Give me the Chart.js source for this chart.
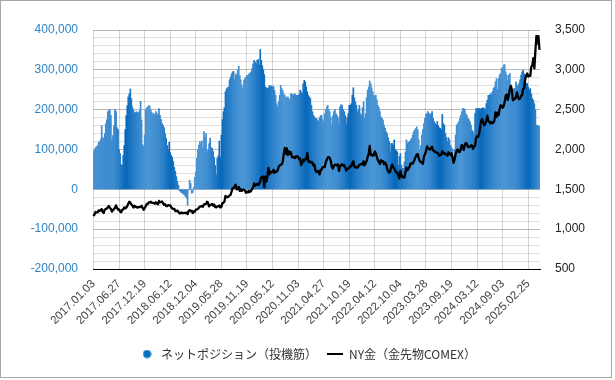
<!DOCTYPE html>
<html>
<head>
<meta charset="utf-8">
<script src="https://cdn.jsdelivr.net/npm/chart.js@4.4.1/dist/chart.umd.min.js"></script>
<style>
html,body{margin:0;padding:0;background:#fff;}
#wrap{position:relative;width:615px;height:380px;overflow:hidden;}
#frame{position:absolute;left:0;top:0;width:612px;height:378px;border:1px solid #a6a6a6;box-sizing:border-box;pointer-events:none;}
#c{position:absolute;left:0;top:0;}
</style>
</head>
<body>
<div id="wrap"><div id="frame"></div><canvas id="c" width="615" height="380"></canvas></div>
<script>
// ---- data ----
const seriesNames = ['ネットポジション（投機筋）', 'NY金（金先物COMEX）'];
const firstWeek = [2017, 1, 3];
const tickLabels = ['2017.01.03','2017.06.27','2017.12.19','2018.06.12','2018.12.04','2019.05.28','2019.11.19','2020.05.12','2020.11.03','2021.04.27','2021.10.19','2022.04.12','2022.10.04','2023.03.28','2023.09.19','2024.03.12','2024.09.03','2025.02.25'];

const netPosition = [
 95000,100000,105000,107000,110000,118000,120000,125000,160000,130000,
 128000,140000,165000,175000,195000,198000,200000,186000,124000,135000,
 160000,200000,195000,155000,150000,100000,90000,62000,60000,85000,
 110000,150000,185000,210000,232000,240000,252000,228000,207000,199000,
 192000,193000,195000,192000,193000,198000,221000,174000,112000,108000,
 136000,200000,
 205000,207000,211000,208000,200000,193000,188000,190000,186000,195000,
 190000,186000,203000,185000,175000,165000,160000,155000,140000,128000,
 110000,100000,118000,92000,85000,80000,70000,55000,45000,32000,
 20000,10000,-3000,-5000,-8000,-10000,-12000,-14000,-18000,-22000,
 -40000,-2000,23000,15000,-10000,-8000,5000,30000,44000,78000,
 100000,111000,
 120000,115000,122000,103000,145000,130000,140000,95000,100000,115000,
 128000,105000,103000,95000,80000,60000,36000,78000,84000,121000,
 80000,136000,175000,195000,205000,245000,252000,255000,257000,275000,
 282000,290000,295000,296000,275000,290000,286000,300000,309000,286000,
 275000,262000,253000,274000,278000,282000,286000,286000,290000,292000,
 295000,303000,315000,
 324000,320000,316000,324000,326000,312000,351000,324000,310000,300000,
 288000,257000,255000,253000,255000,261000,258000,260000,257000,258000,
 248000,236000,215000,207000,220000,236000,261000,253000,248000,240000,
 236000,232000,228000,232000,228000,224000,240000,240000,236000,238000,
 240000,236000,236000,236000,238000,249000,245000,240000,265000,274000,
 270000,257000,
 245000,236000,232000,228000,211000,195000,186000,182000,178000,178000,
 174000,170000,180000,185000,186000,175000,170000,190000,200000,207000,
 211000,200000,195000,180000,161000,185000,195000,200000,190000,186000,
 180000,165000,207000,213000,210000,200000,195000,185000,165000,180000,
 190000,211000,211000,215000,236000,255000,230000,220000,211000,195000,
 200000,211000,
 190000,186000,205000,220000,178000,190000,230000,249000,257000,272000,
 265000,255000,245000,236000,232000,236000,225000,211000,205000,195000,
 182000,178000,174000,161000,153000,145000,140000,130000,120000,94000,
 115000,115000,110000,124000,99000,97000,94000,61000,82000,90000,
 61000,53000,53000,69000,94000,124000,115000,118000,120000,124000,
 128000,136000,
 145000,149000,153000,157000,150000,125000,100000,110000,136000,150000,
 165000,178000,188000,190000,195000,190000,186000,190000,195000,178000,
 170000,165000,161000,170000,160000,155000,153000,149000,188000,165000,
 161000,140000,130000,120000,130000,125000,111000,105000,99000,78000,
 100000,136000,161000,165000,170000,178000,186000,195000,203000,203000,
 200000,190000,
 186000,178000,175000,170000,161000,149000,145000,136000,190000,203000,
 203000,203000,203000,199000,203000,203000,205000,203000,199000,215000,
 224000,236000,236000,240000,238000,245000,253000,257000,270000,278000,
 250000,278000,287000,291000,305000,303000,312000,313000,295000,287000,
 274000,287000,291000,257000,245000,236000,253000,253000,270000,262000,
 260000,266000,275000,
 287000,295000,299000,290000,278000,266000,266000,257000,249000,253000,
 240000,228000,224000,215000,199000,161000,161000,159000,158000
];

const goldPrice = [
 1163,1185,1216,1211,1210,1236,1229,1237,1252,1216,
 1203,1245,1253,1258,1275,1291,1267,1256,1220,1236,
 1256,1266,1298,1268,1246,1247,1221,1213,1242,1249,
 1272,1262,1272,1291,1318,1344,1334,1311,1294,1272,
 1293,1283,1277,1271,1276,1278,1281,1294,1266,1243,
 1265,1288,
 1316,1313,1337,1335,1345,1330,1330,1329,1318,1337,
 1326,1311,1354,1337,1340,1347,1327,1305,1313,1290,
 1291,1301,1297,1299,1276,1260,1253,1255,1227,1226,
 1233,1218,1199,1198,1210,1202,1202,1206,1201,1207,
 1189,1230,1239,1227,1231,1202,1222,1219,1245,1248,
 1254,1269,
 1284,1286,1291,1282,1311,1314,1315,1344,1330,1287,
 1301,1306,1316,1294,1309,1277,1275,1285,1285,1296,
 1273,1279,1327,1331,1346,1418,1400,1401,1410,1424,
 1431,1475,1514,1515,1542,1559,1499,1513,1531,1480,
 1505,1481,1494,1495,1484,1456,1472,1461,1483,1468,
 1480,1504,1520,
 1574,1544,1558,1569,1553,1570,1603,1650,1644,1660,
 1526,1660,1596,1664,1768,1688,1722,1711,1718,1746,
 1705,1727,1720,1736,1782,1800,1809,1813,1843,1944,
 2020,1946,2013,1929,1978,1943,1966,1907,1899,1908,
 1893,1916,1911,1910,1876,1888,1805,1830,1873,1857,
 1878,1882,
 1954,1856,1840,1850,1834,1838,1799,1808,1737,1716,
 1731,1727,1686,1743,1746,1778,1779,1779,1837,1869,
 1898,1905,1893,1855,1779,1761,1796,1808,1811,1799,
 1813,1731,1789,1806,1816,1797,1806,1777,1735,1760,
 1760,1770,1793,1789,1829,1852,1782,1774,1785,1771,
 1789,1810,
 1814,1819,1813,1852,1801,1828,1855,1907,1944,2044,
 1929,1939,1920,1930,1977,1950,1903,1867,1842,1818,
 1866,1848,1853,1813,1838,1820,1763,1725,1711,1719,
 1776,1812,1776,1761,1737,1713,1709,1671,1636,1731,
 1677,1652,1658,1649,1716,1776,1740,1763,1782,1826,
 1826,1823,
 1846,1878,1910,1937,1942,1890,1854,1842,1836,1820,
 1910,1941,1973,2038,2019,2007,1998,2023,2034,1989,
 1974,1977,1963,1958,1950,1923,1929,1936,1979,1965,
 1944,1949,1935,1923,1965,1953,1932,1953,1900,1834,
 1876,1941,1986,2001,1969,1966,2000,2057,2037,1995,
 2059,2083,
 2073,2034,2030,2036,2052,2052,2008,2038,2044,2141,
 2166,2160,2197,2281,2362,2383,2342,2303,2324,2359,
 2425,2360,2347,2327,2346,2331,2339,2369,2467,2409,
 2462,2431,2505,2554,2550,2525,2543,2598,2677,2690,
 2622,2680,2758,2800,2749,2616,2636,2633,2658,2718,
 2651,2633,2641,
 2672,2680,2759,2767,2874,2932,2953,2917,2928,2925,
 3041,3060,3148,3018,3240,3425,3333,3422,3250
];

// weekly category labels (one per published week)
const categories = [];
(function () {
  const t0 = Date.UTC(firstWeek[0], firstWeek[1] - 1, firstWeek[2]);
  const p = n => String(n).padStart(2, '0');
  for (let i = 0; i < netPosition.length; i++) {
    const d = new Date(t0 + i * 7 * 86400000);
    categories.push(d.getUTCFullYear() + '.' + p(d.getUTCMonth() + 1) + '.' + p(d.getUTCDate()));
  }
})();

// ---- styles ----
const LATIN = '"Liberation Sans", Arial, sans-serif';
const CJK = '"Noto Sans CJK JP", "Liberation Sans", sans-serif';
Chart.defaults.font.family = LATIN;

function barFill(context) {
  const chart = context.chart;
  const a = chart.chartArea;
  if (!a) return '#3b8bd0';
  const key = a.left + '_' + a.right;
  if (chart.$grad && chart.$gradKey === key) return chart.$grad;
  const g = chart.ctx.createLinearGradient(a.left, 0, a.right, 0);
  const centers = [0.074, 0.174, 0.286, 0.380, 0.477, 0.575, 0.676, 0.776, 0.868, 0.973];
  const stops = [[0, '#4792d3']];
  centers.forEach((c, k) => {
    if (k > 0) stops.push([(centers[k - 1] + c) / 2, '#4c97d5']);
    stops.push([c - 0.03, '#3a8acf']);
    stops.push([c - 0.01, '#1a75c3']);
    stops.push([c, '#0767b9']);
    stops.push([c + 0.01, '#1a75c3']);
    stops.push([c + 0.03, '#3a8acf']);
  });
  stops.push([1, '#4792d3']);
  stops.filter(s => s[0] >= 0 && s[0] <= 1).sort((p, q) => p[0] - q[0]).forEach(s => g.addColorStop(s[0], s[1]));
  chart.$grad = g; chart.$gradKey = key;
  return g;
}

function makeSymbol(w, h, draw) {
  const cv = document.createElement('canvas');
  cv.width = w; cv.height = h;
  draw(cv.getContext('2d'));
  return cv;
}
const circleSym = makeSymbol(9, 9, c => { c.fillStyle = '#0070c0'; c.beginPath(); c.arc(4.5, 4.5, 4, 0, Math.PI * 2); c.fill(); });
const lineSym = makeSymbol(16, 2, c => { c.fillStyle = '#000'; c.fillRect(0, 0, 16, 2); });

new Chart(document.getElementById('c'), {
  data: {
    labels: categories,
    datasets: [
      {
        type: 'bar', label: seriesNames[0], data: netPosition, yAxisID: 'y',
        backgroundColor: barFill, borderWidth: 0,
        barPercentage: 1, categoryPercentage: 1, order: 2
      },
      {
        type: 'line', label: seriesNames[1], data: goldPrice, yAxisID: 'y1',
        borderColor: '#000', borderWidth: 2.3, pointRadius: 0, tension: 0,
        borderJoinStyle: 'round', fill: false, order: 1
      }
    ]
  },
  options: {
    responsive: false,
    animation: false,
    devicePixelRatio: 1,
    layout: { padding: { top: 30, left: 0, right: 0, bottom: 10 } },
    plugins: {
      tooltip: { enabled: false },
      legend: {
        position: 'bottom',
        labels: {
          usePointStyle: true,
          pointStyleWidth: 16,
          padding: 10,
          color: '#333',
          font: { family: CJK, size: 12 },
          generateLabels: () => [
            { text: seriesNames[0], pointStyle: circleSym, fillStyle: '#0070c0', strokeStyle: '#0070c0', lineWidth: 0, hidden: false, datasetIndex: 0, fontColor: '#333' },
            { text: seriesNames[1], pointStyle: lineSym, fillStyle: '#000', strokeStyle: '#000', lineWidth: 0, hidden: false, datasetIndex: 1, fontColor: '#333' }
          ]
        }
      }
    },
    scales: {
      x: {
        type: 'category',
        offset: true,
        grid: {
          offset: false, drawTicks: false,
          color: ctx => (ctx.index % 25 === 0 ? '#d6d6d6' : 'rgba(0,0,0,0)')
        },
        border: { display: true, color: '#000', width: 1 },
        ticks: {
          autoSkip: false, maxRotation: 45, minRotation: 45, padding: 8,
          color: '#404040', font: { family: LATIN, size: 11.5 },
          callback: (v, i) => (i % 25 === 0 ? (tickLabels[i / 25] || '') : '')
        },
        afterFit: s => { s.height = 69; }
      },
      y: {
        position: 'left',
        min: -200000, max: 400000,
        z: 1,
        grid: {
          drawTicks: false,
          color: ctx => {
            const v = ctx.tick ? ctx.tick.value : 0;
            if (v === -200000) return 'rgba(0,0,0,0)';
            return v % 100000 === 0 ? 'rgba(135,135,135,0.6)' : 'rgba(160,160,160,0.32)';
          }
        },
        border: { display: false },
        ticks: {
          stepSize: 20000, autoSkip: false, padding: 15,
          color: '#2e83c6', font: { family: LATIN, size: 12 },
          callback: v => (v % 100000 === 0 ? v.toLocaleString('en-US') : '')
        },
        afterFit: s => { s.width = 93; }
      },
      y1: {
        position: 'right',
        min: 500, max: 3500,
        grid: { drawOnChartArea: false, drawTicks: false },
        border: { display: false },
        ticks: {
          stepSize: 500, padding: 15,
          color: '#222', font: { family: LATIN, size: 12 },
          callback: v => v.toLocaleString('en-US')
        },
        afterFit: s => { s.width = 75; }
      }
    }
  }
});
</script>
</body>
</html>
